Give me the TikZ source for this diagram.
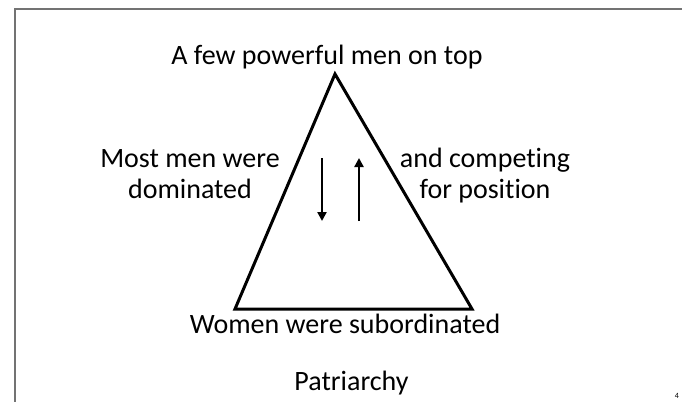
\documentclass[tikz,border=0pt]{standalone}
\usepackage{fontspec}
\setmainfont[Ligatures=NoCommon, RawFeature={-liga;-clig;-dlig;-calt}]{Carlito}
\usetikzlibrary{arrows.meta}
\tikzset{
  lbl/.style={font=\fontsize{28}{31}\selectfont, inner sep=0pt, align=center},
  tri/.style={line width=3pt, line join=miter},
  arr/.style={line width=2.5pt, -{Triangle[width=9pt,length=9pt]}},
  frame/.style={draw=black!55, line width=1.5pt}
}
\begin{document}
\begin{tikzpicture}[x=1pt,y=-1pt]
\useasboundingbox (0,0) rectangle (682,402);
\draw[frame] (682,9) -- (15,9) -- (15,402);
\coordinate (apex) at (335,74);
\coordinate (bl) at (235,309);
\coordinate (br) at (472,309);
\draw[tri] (apex) -- (br) -- (bl) -- cycle;
\coordinate (d1) at (322,158);
\coordinate (d2) at (322,221);
\coordinate (u1) at (359,221);
\coordinate (u2) at (359,158);
\draw[arr] (d1) -- (d2);
\draw[arr] (u1) -- (u2);
\node[lbl, anchor=base] (top) at (327,64) {A few powerful men on top};
\node[lbl, anchor=base] (left) at (190,198) {Most men were\\dominated};
\node[lbl, anchor=base] (right) at (485,198) {and competing\\for position};
\node[lbl, anchor=base] (bottom) at (345,333) {Women were subordinated};
\node[lbl, anchor=base] (title) at (351.5,390) {Patriarchy};
\node[font=\fontsize{8}{9}\selectfont, inner sep=0pt, anchor=base] (num) at (677,398) {4};
\end{tikzpicture}
\end{document}
